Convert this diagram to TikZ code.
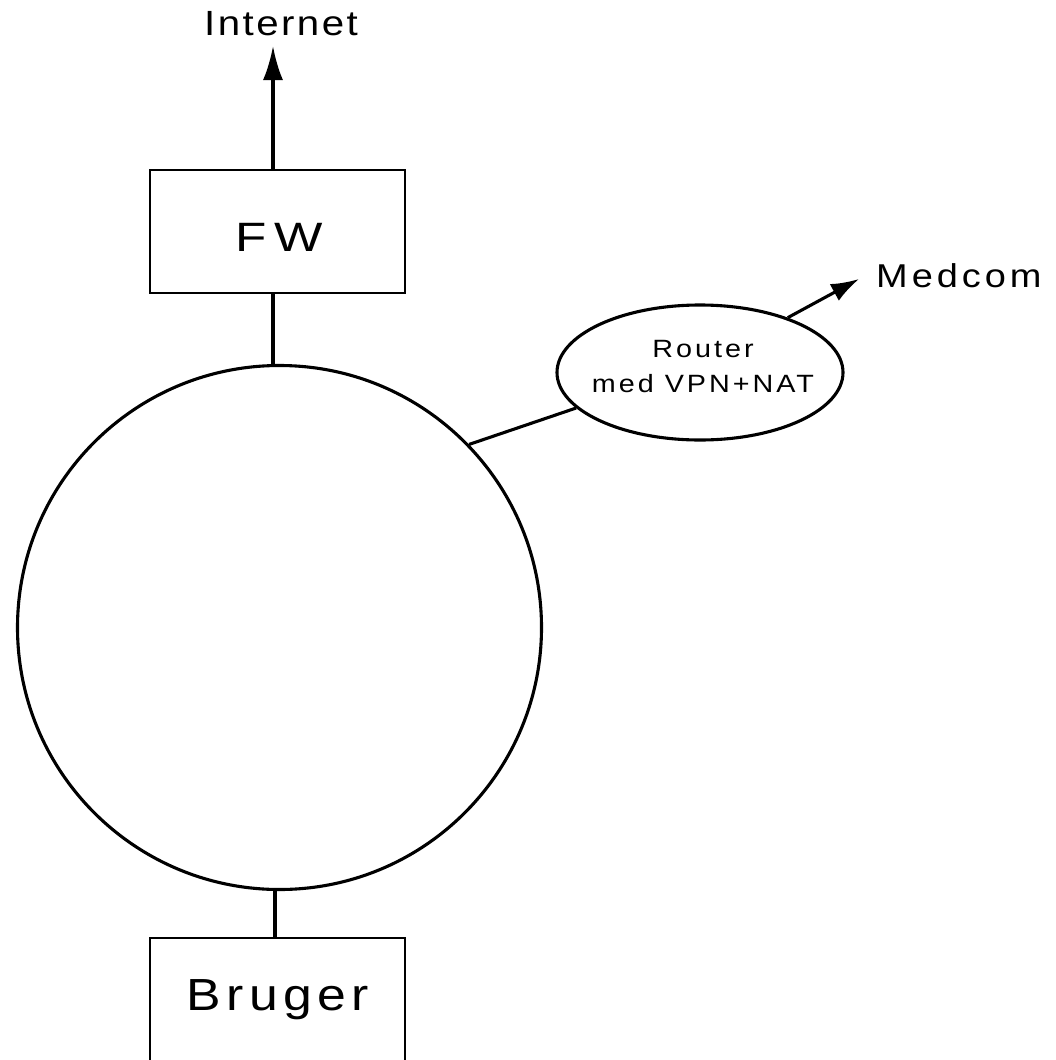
\documentclass[tikz,border=0pt]{standalone}
\usepackage{fontspec}
\setmainfont{Liberation Sans}[FakeStretch=1.15,LetterSpace=12]
\newfontfamily\widefw{Liberation Sans}[FakeStretch=1.25,LetterSpace=18]
\newfontfamily\wideinet{Liberation Sans}[FakeStretch=1.15,LetterSpace=7]
\usetikzlibrary{shapes.geometric,arrows.meta}
\begin{document}
\begin{tikzpicture}[x=1pt,y=-1pt,
  wire/.style={line width=3.1pt},
  box/.style={draw,line width=2.8pt,rectangle,minimum width=255pt,inner sep=0pt},
  bigtip/.style={-{Latex[length=34pt,width=20pt]}},
  smalltip/.style={-{Latex[length=28pt,width=19pt]}},
  lbl/.style={inner sep=0pt}]
\useasboundingbox (0,0) rectangle (1056,1060);
\fill[white] (0,0) rectangle (1056,1060);

% boxes, hub and router
\node[box,minimum height=123pt] (fw) at (277.5,231.5) {};
\node[lbl,font=\widefw\fontsize{41}{46}\selectfont] (fwtext) at (279,237) {FW};
\node[box,minimum height=128pt] (user) at (277.5,1002) {};
\node[lbl,font=\fontsize{45}{50}\selectfont] (usertext) at (278,1000) {Bruger};
\node[draw,line width=3.1pt,circle,minimum size=524pt,inner sep=0pt] (hub) at (279.5,627.5) {};
\node[draw,line width=3.1pt,ellipse,minimum width=286pt,minimum height=135pt,inner sep=0pt] (router) at (700,372.5) {};
\node[lbl,align=center,font=\fontsize{25}{35}\selectfont] (routertext) at (703,367) {Router\\med VPN+NAT};

% labels
\node[lbl,font=\wideinet\fontsize{35}{40}\selectfont] (inet) at (281,23.5) {Internet};
\node[lbl,anchor=west,font=\fontsize{33}{38}\selectfont] (medcom) at (876,276) {Medcom};
\coordinate (inettip) at (273,46);
\coordinate (medtip) at (859,279);
\coordinate (upperx) at (273,0);
\coordinate (lowerx) at (275,0);

% connectors
\draw[wire,bigtip] (fw.north -| inettip) -- (inettip);
\draw[wire] (fw.south -| upperx) -- (hub.north -| upperx);
\draw[wire] (hub.south -| lowerx) -- (user.north -| lowerx);
\draw[wire] (hub.44.7) -- (router.196);
\draw[wire,smalltip] (router.32) -- (medtip);
\end{tikzpicture}
\end{document}
